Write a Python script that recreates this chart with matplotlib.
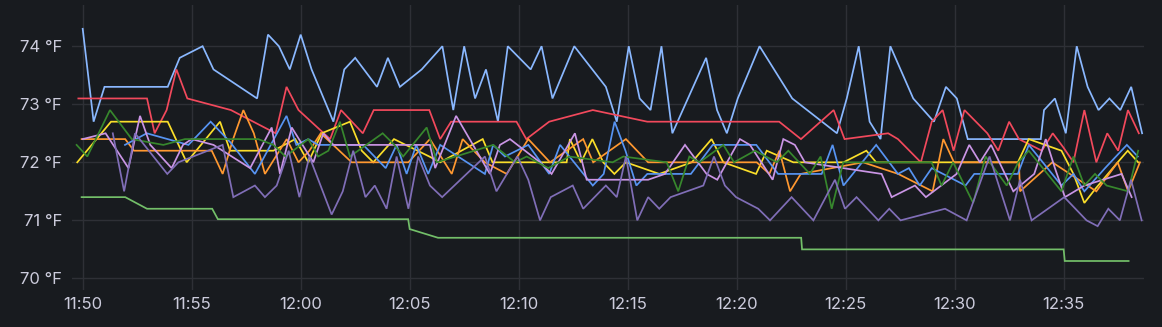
import matplotlib
matplotlib.use("Agg")
import matplotlib.pyplot as plt

# minutes after 11:50, value in °F
LIGHT_BLUE = [(0, 74.3), (0.5, 72.7), (1.0, 73.3), (3.9, 73.3), (4.45, 73.8), (5.5, 74.0), (6.0, 73.6),
              (8.0, 73.1), (8.5, 74.2), (9.0, 74.0), (9.5, 73.6), (10.0, 74.2), (10.5, 73.6), (11.5, 72.7),
              (12.0, 73.6), (12.5, 73.8), (13.5, 73.3), (14.0, 73.8), (14.55, 73.3), (15.55, 73.6),
              (16.5, 74.0), (17.0, 72.9), (17.5, 74.0), (18.0, 73.1), (18.5, 73.6), (19.05, 72.7),
              (19.5, 74.0), (20.55, 73.6), (21.05, 74.0), (21.55, 73.1), (22.55, 74.0), (24.0, 73.3),
              (24.5, 72.7), (25.05, 74.0), (25.55, 73.1), (26.05, 72.9), (26.55, 74.0), (27.05, 72.5),
              (28.6, 73.8), (29.1, 72.9), (29.55, 72.5), (30.05, 73.1), (31.05, 74.0), (32.55, 73.1),
              (34.6, 72.5), (35.05, 73.1), (35.6, 74.0), (36.1, 72.7), (36.6, 72.4), (37.05, 74.0),
              (38.1, 73.1), (39.05, 72.7), (39.6, 73.3), (40.1, 73.1), (40.6, 72.4), (43.95, 72.4),
              (44.1, 72.9), (44.6, 73.1), (45.1, 72.5), (45.6, 74.0), (46.1, 73.3), (46.6, 72.9),
              (47.1, 73.1), (47.6, 72.9), (48.1, 73.3), (48.6, 72.5)]
RED = [(-0.2, 73.1), (2.95, 73.1), (3.3, 72.5), (3.85, 72.9), (4.3, 73.6), (4.8, 73.1), (6.8, 72.9),
       (8.85, 72.5), (9.35, 73.3), (9.9, 72.9), (11.35, 72.4), (11.85, 72.9), (12.85, 72.5), (13.35, 72.9),
       (15.9, 72.9), (16.4, 72.4), (16.9, 72.7), (19.9, 72.7), (20.35, 72.4), (21.4, 72.7), (23.4, 72.9),
       (25.9, 72.7), (31.95, 72.7), (32.95, 72.4), (34.45, 72.9), (34.95, 72.4), (36.95, 72.5),
       (37.4, 72.4), (38.45, 72.0), (38.95, 72.7), (39.45, 72.9), (39.95, 72.2), (40.45, 72.9),
       (41.5, 72.5), (42.0, 72.2), (42.5, 72.7), (42.95, 72.4), (44.0, 72.2), (44.5, 72.5), (45.0, 72.25),
       (45.45, 72.0), (45.95, 72.9), (46.5, 72.0), (47.0, 72.5), (47.5, 72.2), (47.95, 72.9), (48.45, 72.5)]
YELLOW = [(-0.25, 72.0), (1.3, 72.7), (3.9, 72.7), (4.77, 72.0), (6.3, 72.7), (6.76, 72.2), (8.75, 72.2),
          (9.75, 72.4), (10.35, 72.0), (10.96, 72.5), (12.26, 72.7), (12.8, 72.2), (13.33, 72.0),
          (14.28, 72.4), (15.9, 72.1), (16.4, 72.0), (18.35, 72.4), (18.8, 72.0), (22.2, 72.0),
          (22.35, 72.4), (22.86, 72.0), (23.38, 72.4), (23.88, 72.0), (24.39, 71.8), (24.92, 72.0),
          (26.45, 71.8), (27.94, 72.0), (28.85, 72.4), (29.39, 72.0), (30.89, 71.8), (31.38, 72.2),
          (32.6, 72.0), (34.9, 72.0), (35.95, 72.2), (36.4, 72.0), (42.9, 72.0), (43.4, 72.4),
          (44.9, 72.2), (45.45, 71.8), (45.95, 71.3), (46.47, 71.55), (47.48, 72.0), (47.94, 72.2),
          (48.42, 72.0)]
ORANGE = [(-0.05, 72.4), (1.95, 72.4), (2.35, 72.2), (5.92, 72.2), (6.42, 71.8), (6.9, 72.4), (7.37, 72.9),
          (7.85, 72.5), (8.36, 71.8), (9.36, 72.4), (9.9, 72.0), (10.4, 72.2), (10.92, 72.5), (12.34, 72.0),
          (14.94, 72.0), (15.93, 72.4), (16.93, 71.8), (17.43, 72.4), (18.45, 72.0), (19.45, 71.8),
          (20.44, 72.4), (21.44, 72.0), (22.96, 72.4), (23.42, 72.0), (24.92, 72.4), (25.94, 72.0),
          (30.92, 72.0), (31.5, 71.8), (31.96, 72.2), (32.45, 71.5), (32.94, 71.8), (35.8, 72.0),
          (37.41, 71.8), (38.99, 71.5), (39.48, 72.4), (39.97, 72.0), (42.95, 72.0), (43.0, 71.5),
          (44.48, 72.0), (46.5, 71.5), (47.48, 72.0), (47.96, 71.5), (48.5, 72.0)]
DARK_GREEN = [(-0.28, 72.3), (0.21, 72.1), (1.25, 72.9), (2.25, 72.4), (3.7, 72.3), (4.69, 72.4),
              (8.05, 72.4), (8.75, 72.3), (9.3, 72.1), (10.35, 72.4), (10.8, 72.1), (11.27, 72.2),
              (11.8, 72.7), (12.26, 72.1), (13.76, 72.5), (14.3, 72.3), (14.7, 72.1), (15.78, 72.6),
              (16.25, 72.0), (18.83, 72.3), (19.83, 72.0), (20.37, 72.1), (21.36, 71.9), (22.32, 72.1),
              (24.31, 72.0), (24.8, 72.1), (26.79, 72.0), (27.32, 71.5), (27.83, 72.1), (28.3, 72.0),
              (29.39, 72.3), (29.88, 72.0), (30.84, 72.2), (31.84, 72.0), (32.37, 72.2), (33.36, 71.8),
              (33.85, 72.1), (34.36, 71.2), (34.89, 72.0), (38.94, 72.0), (39.4, 71.6), (39.93, 72.0),
              (40.85, 71.3), (41.42, 72.1), (42.39, 71.6), (42.92, 72.0), (43.4, 72.2), (44.9, 71.5),
              (45.45, 72.1), (45.95, 71.6), (46.44, 71.8), (46.97, 71.6), (47.96, 71.5), (48.42, 72.2)]
BLUE = [(1.94, 72.3), (2.94, 72.5), (4.85, 72.3), (5.87, 72.7), (6.76, 72.35), (7.9, 71.8), (9.35, 72.8),
        (9.8, 72.3), (10.35, 72.4), (10.8, 72.3), (12.87, 72.3), (13.9, 71.9), (14.4, 72.3), (14.86, 71.8),
        (15.3, 72.3), (15.85, 71.8), (16.4, 72.3), (18.45, 71.8), (18.83, 72.3), (19.37, 72.1),
        (20.44, 72.3), (21.4, 71.8), (21.9, 72.3), (23.4, 71.6), (23.9, 71.8), (24.4, 72.7), (24.9, 72.2),
        (25.4, 71.6), (25.9, 71.8), (27.9, 71.8), (28.9, 72.3), (30.9, 72.3), (31.9, 71.8), (33.9, 71.8),
        (34.4, 72.3), (34.9, 71.6), (36.4, 72.3), (37.4, 71.8), (37.9, 71.9), (38.4, 71.6), (38.95, 71.9),
        (40.5, 71.6), (40.9, 71.8), (42.9, 71.8), (43.4, 72.3), (44.9, 71.6), (45.45, 71.8), (45.95, 71.5),
        (46.9, 71.9), (47.9, 72.3), (48.4, 72.1)]
LIGHT_PURPLE = [(0.0, 72.4), (1.05, 72.5), (2.1, 71.9), (2.63, 72.8), (3.1, 72.3), (4.08, 71.9), (4.6, 72.3),
                (5.0, 72.4), (6.0, 72.3), (7.68, 71.9), (8.67, 72.6), (9.05, 71.8), (9.59, 72.6),
                (10.58, 72.0), (11.04, 72.5), (11.5, 72.3), (15.93, 72.3), (16.17, 71.9), (17.13, 72.8),
                (18.68, 71.8), (19.14, 72.3), (19.6, 72.4), (20.98, 72.0), (21.51, 71.8), (22.58, 72.5),
                (23.12, 71.7), (25.94, 71.7), (26.71, 71.8), (27.63, 72.3), (28.62, 71.8), (29.11, 71.7),
                (30.15, 72.4), (30.61, 72.3), (31.65, 71.7), (32.14, 72.4), (32.67, 72.3), (33.13, 72.0),
                (36.65, 71.8), (37.11, 71.4), (38.18, 71.6), (38.68, 71.4), (40.09, 71.8), (40.67, 72.3),
                (41.16, 72.0), (41.67, 72.3), (42.69, 71.5), (43.65, 71.8), (44.18, 72.4), (44.6, 71.9),
                (45.06, 71.4), (45.95, 71.6), (47.66, 71.8), (48.12, 71.4)]
DARK_PURPLE = [(1.38, 72.5), (1.9, 71.5), (2.4, 72.5), (3.88, 71.8), (4.39, 72.0), (6.42, 72.3), (6.91, 71.4),
               (7.9, 71.6), (8.36, 71.4), (8.9, 71.6), (9.45, 72.2), (9.94, 71.4), (10.4, 72.1),
               (11.42, 71.1), (11.93, 71.5), (12.41, 72.2), (12.97, 71.4), (13.4, 71.6), (13.94, 71.2),
               (14.4, 72.1), (14.94, 71.2), (15.39, 72.1), (15.93, 71.6), (16.49, 71.4), (18.45, 72.1),
               (18.98, 71.5), (19.94, 72.1), (20.44, 71.7), (20.98, 71.0), (21.47, 71.4), (22.48, 71.6),
               (22.96, 71.2), (24.0, 71.6), (24.5, 71.4), (24.92, 72.1), (25.44, 71.0), (25.94, 71.4),
               (26.45, 71.2), (26.97, 71.4), (28.47, 71.6), (28.96, 72.1), (29.46, 71.6), (29.97, 71.4),
               (30.99, 71.2), (31.53, 71.0), (32.52, 71.4), (33.52, 71.0), (34.51, 71.7), (34.97, 71.2),
               (35.5, 71.4), (36.5, 71.0), (37.0, 71.2), (37.52, 71.0), (39.56, 71.2), (40.55, 71.0),
               (41.6, 72.1), (42.54, 71.0), (43.0, 71.7), (43.53, 71.0), (45.03, 71.4), (46.05, 71.0),
               (46.56, 70.9), (47.05, 71.2), (47.58, 71.0), (48.09, 71.7), (48.58, 71.0)]
LIGHT_GREEN = [(-0.05, 71.4), (1.95, 71.4), (2.95, 71.2), (5.94, 71.2), (6.2, 71.02), (14.93, 71.02),
               (15.0, 70.85), (16.3, 70.7), (32.96, 70.7), (33.0, 70.5), (45.0, 70.5), (45.05, 70.3),
               (47.98, 70.3)]

TICK_MIN = [0, 5, 10, 15, 20, 25, 30, 35, 40, 45]
TICK_LBL = ["11:50", "11:55", "12:00", "12:05", "12:10", "12:15", "12:20", "12:25", "12:30", "12:35"]
Y_TICKS = [70, 71, 72, 73, 74]

BG = "#181b1f"
# drawing order, bottom to top
series = [(LIGHT_BLUE, "#8AB8FF"), (RED, "#F2495C"), (YELLOW, "#FADE2A"), (ORANGE, "#FF9830"),
          (BLUE, "#5794F2"), (LIGHT_PURPLE, "#CA95E5"), (DARK_GREEN, "#37872D"),
          (DARK_PURPLE, "#806EB7"), (LIGHT_GREEN, "#73BF69")]

plt.rcParams.update({"font.family": ["Inter", "DejaVu Sans"], "font.size": 12})
fig = plt.figure(figsize=(11.62, 3.27), dpi=100, facecolor=BG)
ax = fig.add_axes([0.0617, 0.1131, 0.9225, 0.8716], facecolor=BG)

for pts, c in series:
    t, v = zip(*pts)
    ax.plot(t, v, color=c, lw=1.25, solid_joinstyle="miter")

ax.set_xlim(-0.505, 48.67)
ax.set_ylim(69.80, 74.71)
ax.set_xticks(TICK_MIN, TICK_LBL)
ax.set_yticks(Y_TICKS, [f"{y} °F" for y in Y_TICKS])
ax.grid(True, color="#2e3036", lw=1)
ax.set_axisbelow(True)
for s in ax.spines.values():
    s.set_visible(False)
ax.tick_params(length=0, colors="#ccccdc", labelsize=12)
ax.tick_params(axis="y", pad=7)
ax.tick_params(axis="x", pad=5)

fig.savefig("out.png", dpi=100, facecolor=BG)
